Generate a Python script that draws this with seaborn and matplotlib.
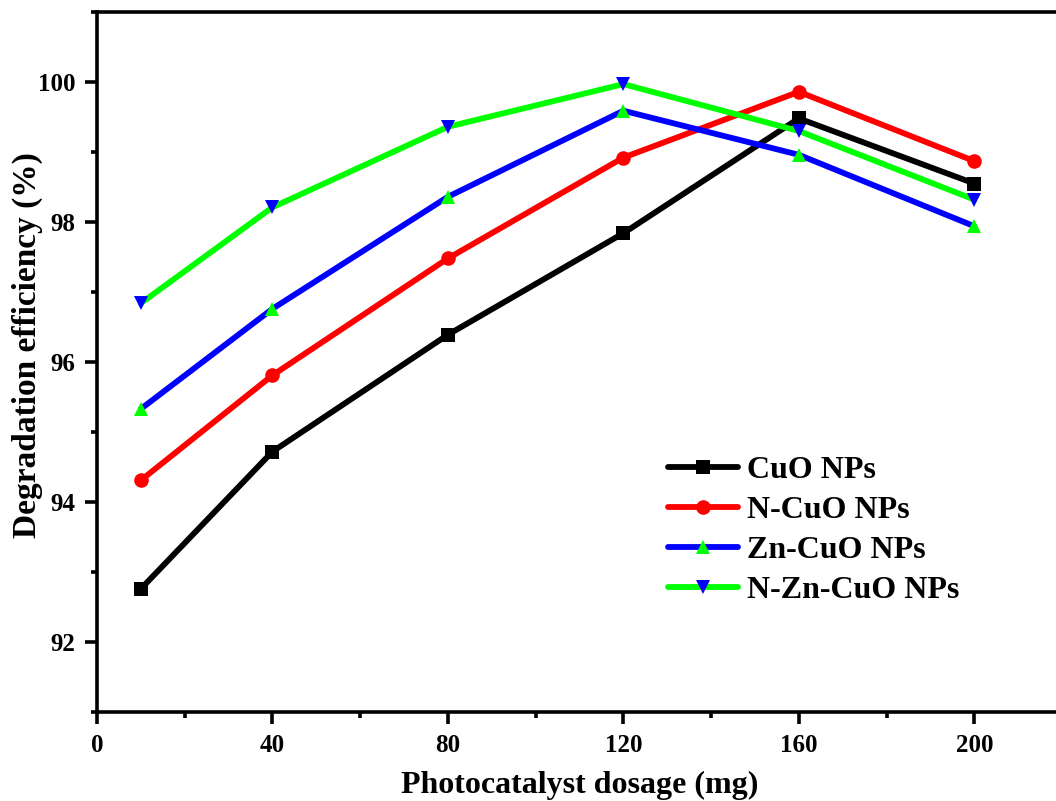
import matplotlib
matplotlib.use("Agg")
import matplotlib.pyplot as plt
from matplotlib.ticker import MultipleLocator
import pandas as pd
import seaborn as sns

# Photocatalyst dosage (mg)
dosage = [10, 40, 80, 120, 160, 200]

# Degradation efficiency (%) for each catalyst
cuo = [92.76, 94.72, 96.39, 97.84, 99.48, 98.55]
n_cuo = [94.31, 95.81, 97.48, 98.92, 99.86, 98.87]
zn_cuo = [95.33, 96.76, 98.36, 99.59, 98.96, 97.94]
n_zn_cuo = [96.84, 98.21, 99.36, 99.97, 99.30, 98.32]

series_names = ["CuO NPs", "N-CuO NPs", "Zn-CuO NPs", "N-Zn-CuO NPs"]
series_values = [cuo, n_cuo, zn_cuo, n_zn_cuo]

x_ticks = [0, 40, 80, 120, 160, 200]
y_ticks = [92, 94, 96, 98, 100]

frames = []
for name, vals in zip(series_names, series_values):
    frames.append(pd.DataFrame({"dosage": dosage, "efficiency": vals, "sample": name}))
df = pd.concat(frames, ignore_index=True)

sns.set_theme(style="ticks")
plt.rcParams["font.family"] = ["Liberation Serif", "DejaVu Serif"]
plt.rcParams["font.weight"] = "bold"
for key in ["text.color", "axes.labelcolor", "xtick.color", "ytick.color", "axes.edgecolor"]:
    plt.rcParams[key] = "black"

fig = plt.figure(figsize=(10.56, 8.01), dpi=100)
ax = fig.add_axes([97 / 1056, 89 / 801, 965 / 1056, 700 / 801])

# line colour, marker, marker colour
styles = {
    "CuO NPs": ("#000000", "s", "#000000"),
    "N-CuO NPs": ("#ff0000", "o", "#ff0000"),
    "Zn-CuO NPs": ("#0000ff", "^", "#00ff00"),
    "N-Zn-CuO NPs": ("#00ff00", "v", "#0000ff"),
}

for name in series_names:
    line_c, mk, mk_c = styles[name]
    sub = df[df["sample"] == name]
    sns.lineplot(
        data=sub, x="dosage", y="efficiency", ax=ax,
        color=line_c, linewidth=4.2, marker=mk, markersize=10.5,
        markerfacecolor=mk_c, markeredgecolor=mk_c, markeredgewidth=0,
        label=name,
    )

ax.set_xlim(0, 220)
ax.set_ylim(91, 101)
ax.set_xticks(x_ticks)
ax.set_yticks(y_ticks)
ax.xaxis.set_minor_locator(MultipleLocator(20))
ax.yaxis.set_minor_locator(MultipleLocator(1))

for side in ["left", "bottom", "top", "right"]:
    ax.spines[side].set_linewidth(2.6)
    ax.spines[side].set_color("black")

ax.tick_params(axis="both", which="major", direction="out", length=8.5, width=2.6,
               labelsize=18, colors="black", pad=7)
ax.tick_params(axis="both", which="minor", direction="out", length=4, width=2.6)
ax.tick_params(top=False, right=False, which="both")
for lbl in ax.get_xticklabels() + ax.get_yticklabels():
    lbl.set_fontweight("bold")

ax.set_xlabel("Photocatalyst dosage (mg)", fontsize=23, fontweight="bold", labelpad=10)
ax.set_ylabel("Degradation efficiency (%)", fontsize=24, fontweight="bold")
ax.yaxis.set_label_coords(-0.056, 0.524)

leg = ax.legend(
    loc="upper left", bbox_to_anchor=(0.578, 0.384), frameon=False,
    prop={"family": "Liberation Serif", "weight": "bold", "size": 23},
    handlelength=2.2, handletextpad=0.3, labelspacing=0.33, borderaxespad=0,
)

fig.savefig("out.png", dpi=100)
